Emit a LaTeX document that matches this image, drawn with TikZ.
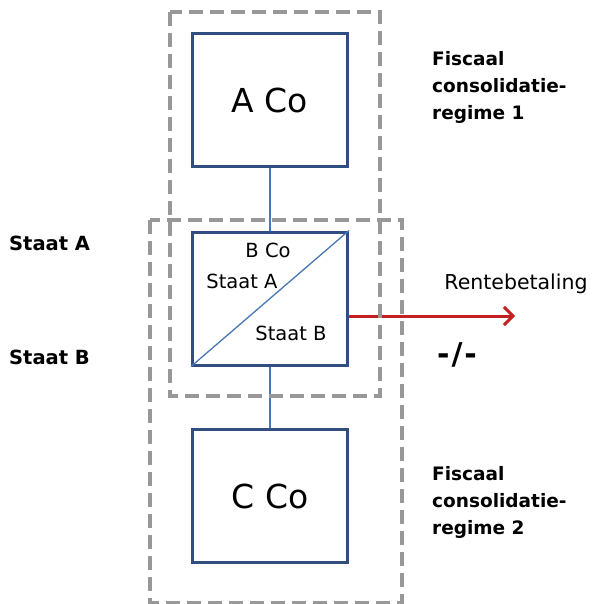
\documentclass[tikz,border=0pt]{standalone}
\usepackage{fontspec}
\setmainfont{DejaVu Sans}
\usetikzlibrary{arrows.meta,positioning,calc}
\usepackage{xcolor}
\definecolor{boxblue}{RGB}{50,78,128}
\definecolor{linkblue}{RGB}{72,118,182}
\definecolor{regimegray}{RGB}{152,152,152}
\definecolor{payred}{RGB}{196,32,36}

\begin{document}
\begin{tikzpicture}[
    x=1pt, y=-1pt,
    cobox/.style={draw=boxblue, line width=3pt, fill=white, minimum width=155pt,
      minimum height=133pt, inner sep=0pt, font=\fontsize{33}{38}\selectfont},
    link/.style={draw=linkblue, line width=2.2pt},
    diag/.style={draw=linkblue, line width=1.3pt},
    regime/.style={draw=regimegray, line width=4pt, dash pattern=on 14pt off 7pt},
    inlabel/.style={inner sep=0pt, font=\fontsize{19.5}{23}\selectfont},
    statelabel/.style={inner sep=0pt, anchor=west, font=\fontsize{19.5}{23}\selectfont\bfseries},
    regimelabel/.style={inner sep=0pt, anchor=north west, align=left,
      font=\fontsize{18.5}{27}\selectfont\bfseries},
    pay/.style={-{Straight Barb[length=9pt, width=18pt]}, line width=3pt, payred}
  ]
    \useasboundingbox (0,0) rectangle (598,604);

    \node[cobox] (ACo) at (270,100) {A Co};
    \node[cobox] (BCo) at (270,298.5) {};
    \node[cobox] (CCo) at (270,496) {C Co};

    \draw[link] (ACo.south) -- (BCo.north);
    \draw[link] (BCo.south) -- (CCo.north);
    \draw[diag] (BCo.south west) -- (BCo.north east);

    \node[inlabel] (bco) at (268,250) {B Co};
    \node[inlabel] (bstaatA) at (242,281) {Staat A};
    \node[inlabel] (bstaatB) at (291,333) {Staat B};

    \node[statelabel] (staatA) at (9,243) {Staat A};
    \node[statelabel] (staatB) at (9,357) {Staat B};

    % interest payment leaves B Co below its centre
    \coordinate (payEnd) at (515,316);
    \draw[pay] (payEnd -| BCo.east) -- (payEnd);
    \node[inlabel, font=\fontsize{20.5}{24}\selectfont] (rente) at (516,284) {Rentebetaling};
    \node[inner sep=0pt, font=\fontsize{30}{34}\selectfont\bfseries] (geen) at (457,355)
      {-\kern2pt/\kern2pt-};

    % the two fiscal unities
    \draw[regime] (170,12) rectangle (380,396);
    \draw[regime] (150,220) rectangle (402,603);

    \node[regimelabel] (reg1) at (432,51) {Fiscaal\\consolidatie-\\regime 1};
    \node[regimelabel] (reg2) at (432,466) {Fiscaal\\consolidatie-\\regime 2};
  \end{tikzpicture}
\end{document}
